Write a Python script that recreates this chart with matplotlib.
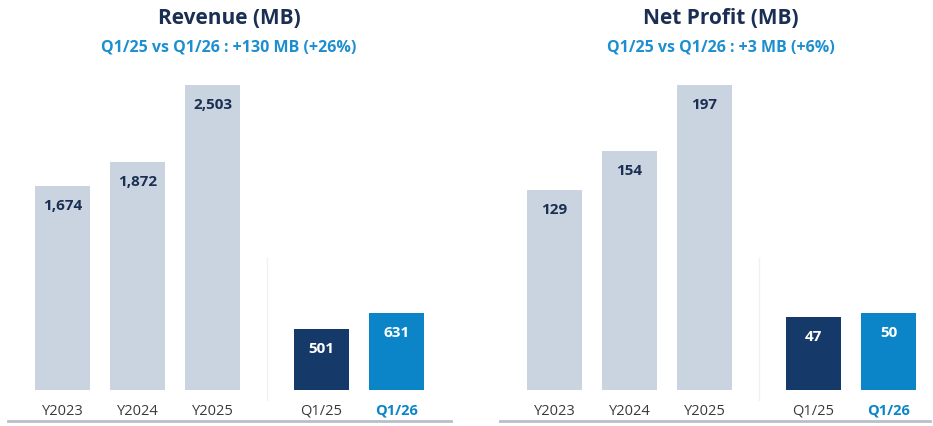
import matplotlib
matplotlib.use("Agg")
import matplotlib.pyplot as plt
from matplotlib.lines import Line2D

plt.rcParams['font.family'] = ['Open Sans', 'DejaVu Sans']

categories = ["Y2023", "Y2024", "Y2025", "Q1/25", "Q1/26"]
revenue = [1674, 1872, 2503, 501, 631]
net_profit = [129, 154, 197, 47, 50]
revenue_labels = ["1,674", "1,872", "2,503", "501", "631"]
profit_labels = ["129", "154", "197", "47", "50"]
titles = ["Revenue (MB)", "Net Profit (MB)"]
subtitles = ["Q1/25 vs Q1/26 : +130 MB (+26%)", "Q1/25 vs Q1/26 : +3 MB (+6%)"]

positions = [0, 1, 2, 3.453, 4.453]
LIGHT = "#cad4e0"
NAVY = "#153a6a"
BLUE = "#0b85c8"
TITLE_C = "#1a2f52"
SUB_C = "#1d8fd0"
bar_colors = [LIGHT, LIGHT, LIGHT, NAVY, BLUE]
text_colors = [TITLE_C, TITLE_C, TITLE_C, "white", "white"]

W, H = 933, 426
fig = plt.figure(figsize=(W / 100, H / 100), dpi=100)

bottom_px = 390
top_px = 60
panels = [
    dict(left=8, right=451, vals=revenue, labels=revenue_labels, ytop=2705, title_x=229),
    dict(left=500, right=930, vals=net_profit, labels=profit_labels, ytop=213, title_x=721),
]

for i, p in enumerate(panels):
    ax = fig.add_axes([p['left'] / W, (H - bottom_px) / H,
                       (p['right'] - p['left']) / W, (bottom_px - top_px) / H])
    x0 = -0.7267
    x1 = x0 + (p['right'] - p['left']) / 75
    ax.set_xlim(x0, x1)
    ax.set_ylim(0, p['ytop'])
    bars = ax.bar(positions, p['vals'], width=0.733, color=bar_colors)
    off = 20 / (bottom_px - top_px) * p['ytop']
    for b, lab, tc in zip(bars, p['labels'], text_colors):
        ax.text(b.get_x() + b.get_width() / 2, b.get_height() - off, lab,
                ha='center', va='center', fontsize=11, fontweight='bold', color=tc)
    ax.set_xticks(positions)
    ax.set_xticklabels(categories, fontsize=10.5, color="#3a3a3a")
    ax.get_xticklabels()[-1].set_color(BLUE)
    ax.get_xticklabels()[-1].set_fontweight('bold')
    ax.tick_params(axis='x', length=0, pad=10)
    ax.set_yticks([])
    for s in ax.spines.values():
        s.set_visible(False)
    ax.axvline((2 + 3.453) / 2, ymin=-0.03, ymax=0.4, color="#eef0f3", lw=1, clip_on=False)
    # baseline
    fig.add_artist(Line2D([p['left'] / W, p['right'] / W], [(H - 421) / H, (H - 421) / H],
                          color="#b9bfc9", lw=2))
    fig.text(p['title_x'] / W, (H - 18) / H, titles[i], ha='center', va='center',
             fontsize=15, fontweight='bold', color=TITLE_C)
    fig.text(p['title_x'] / W, (H - 47) / H, subtitles[i], ha='center', va='center',
             fontsize=11.5, fontweight='bold', color=SUB_C)

fig.savefig("out.png", dpi=100, facecolor="white")
